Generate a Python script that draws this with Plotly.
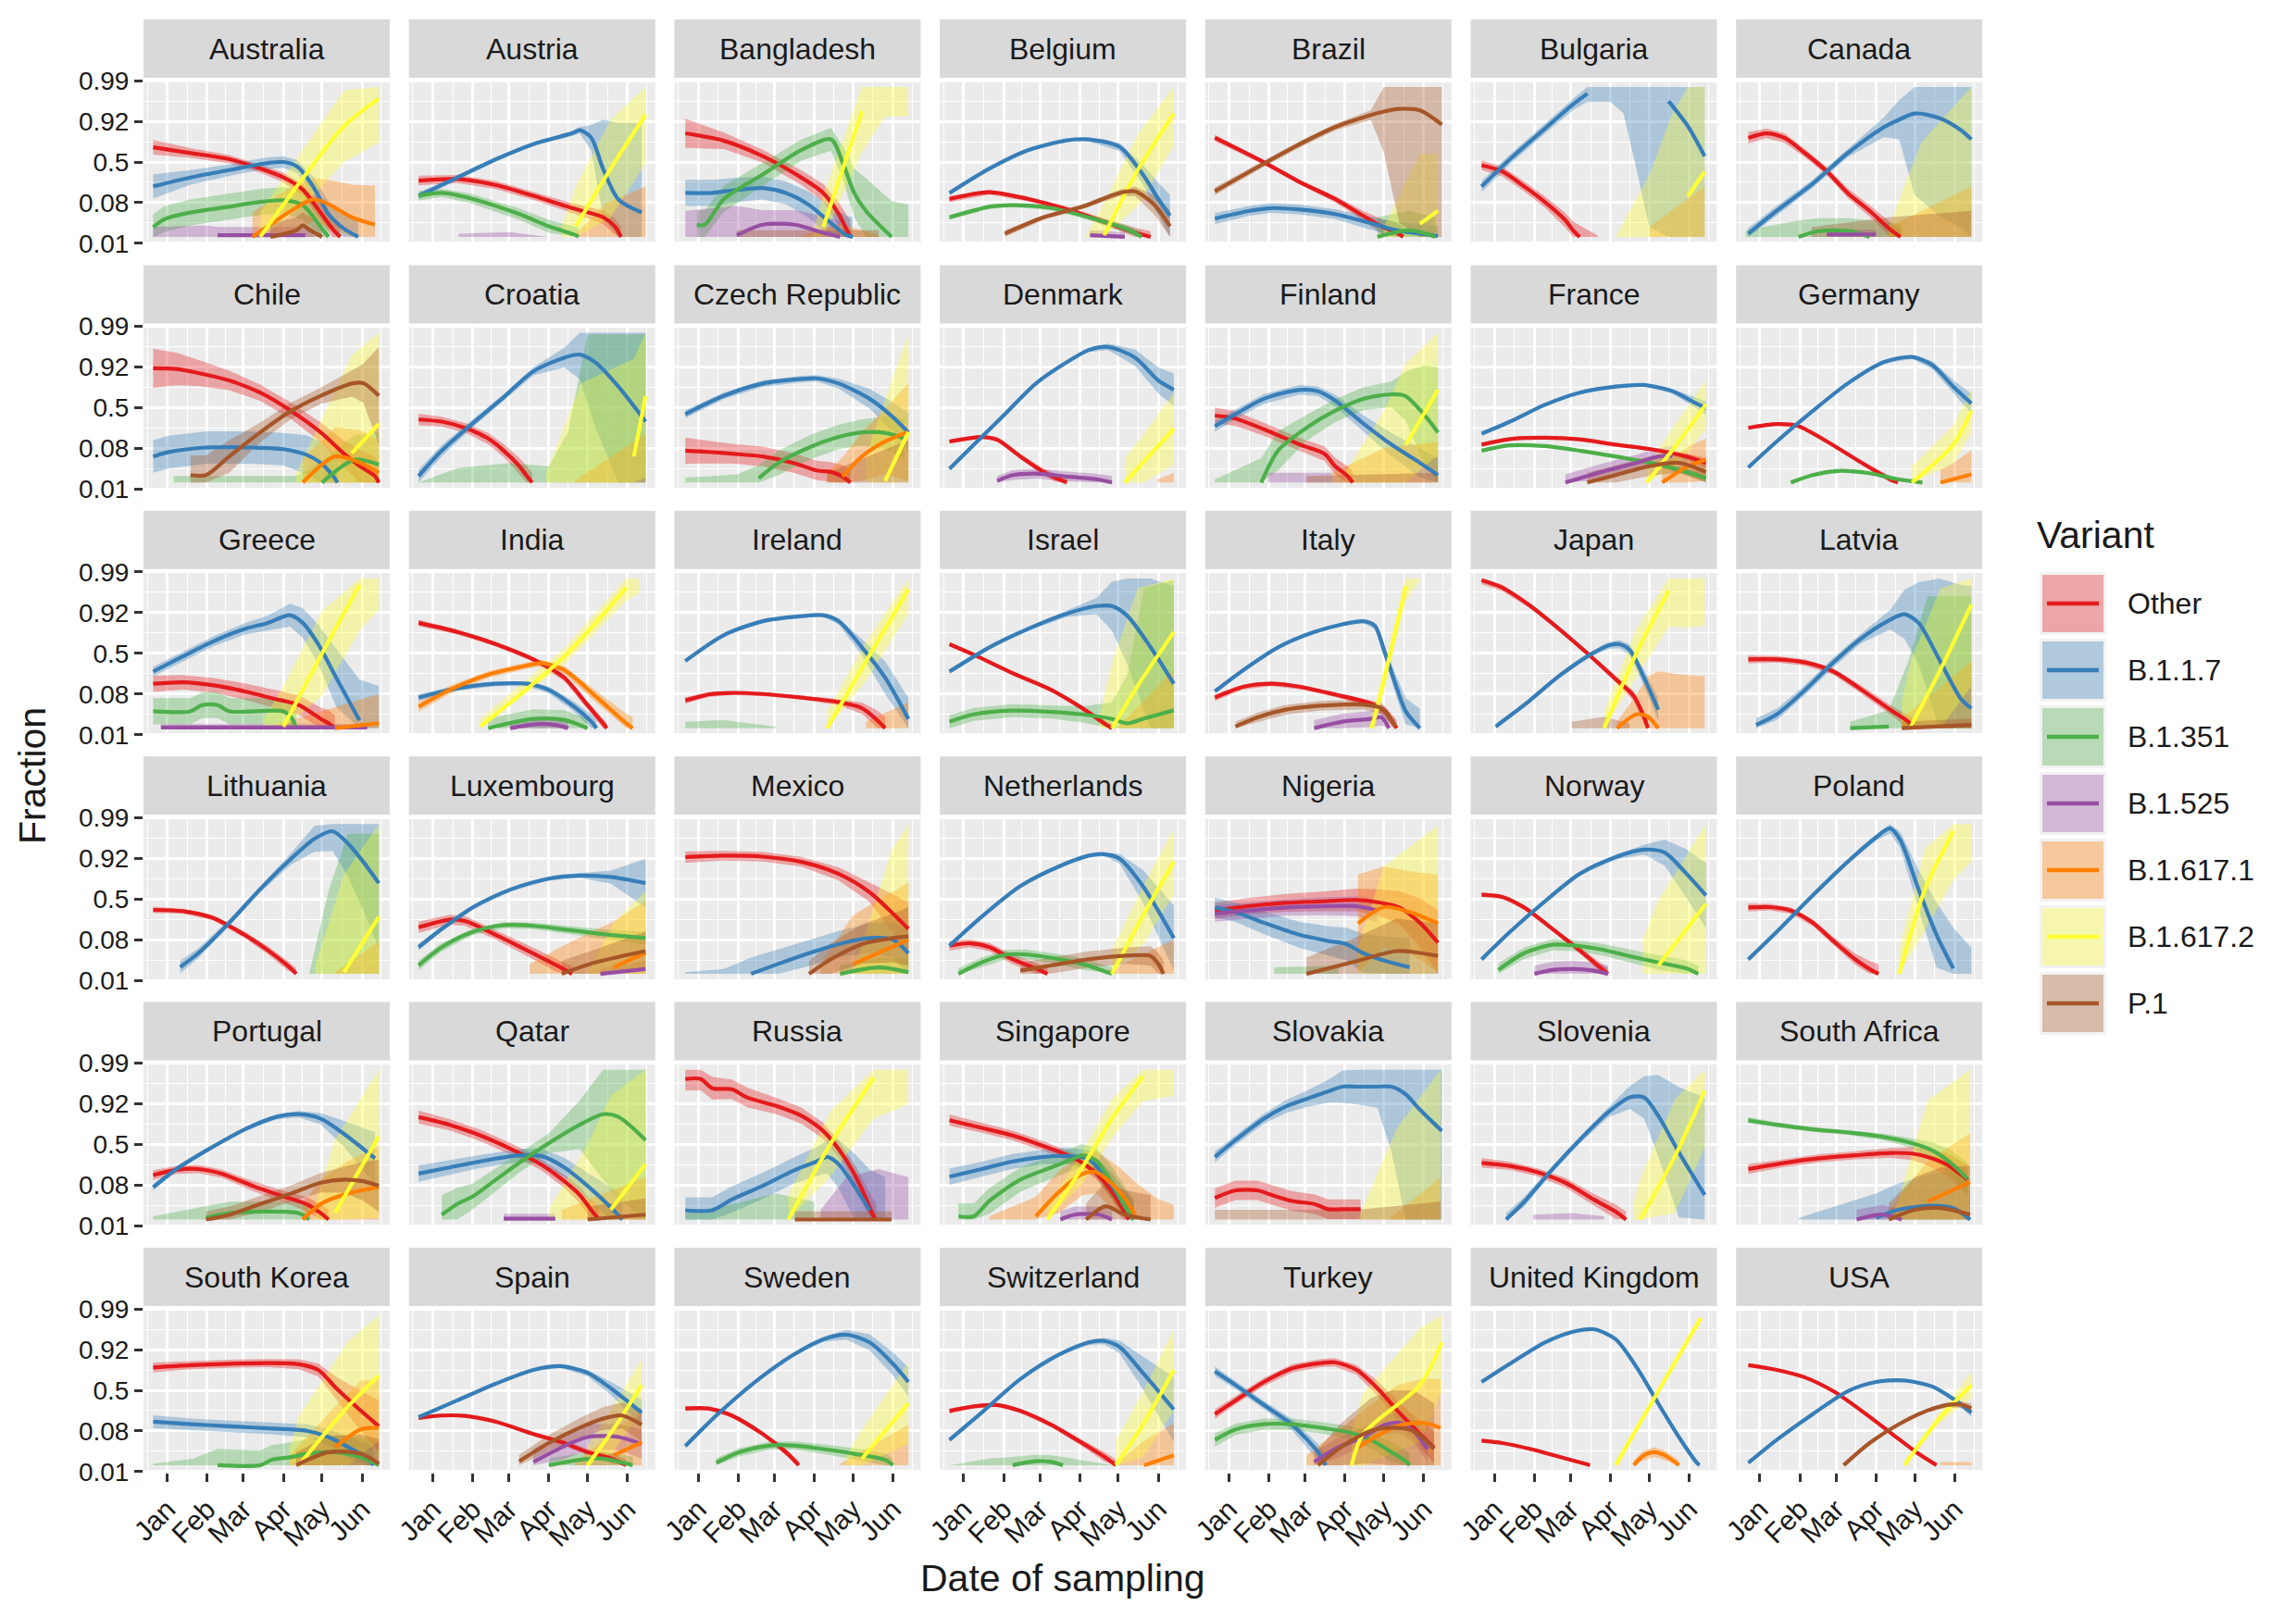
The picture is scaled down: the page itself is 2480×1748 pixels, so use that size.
import numpy as np
import plotly.graph_objects as go

# facets, in the order they appear (6 rows x 7 cols)
COUNTRIES = ["Australia", "Austria", "Bangladesh", "Belgium", "Brazil", "Bulgaria", "Canada",
             "Chile", "Croatia", "Czech Republic", "Denmark", "Finland", "France", "Germany",
             "Greece", "India", "Ireland", "Israel", "Italy", "Japan", "Latvia",
             "Lithuania", "Luxembourg", "Mexico", "Netherlands", "Nigeria", "Norway", "Poland",
             "Portugal", "Qatar", "Russia", "Singapore", "Slovakia", "Slovenia", "South Africa",
             "South Korea", "Spain", "Sweden", "Switzerland", "Turkey", "United Kingdom", "USA"]

VARIANTS = ["Other", "B.1.1.7", "B.1.351", "B.1.525", "B.1.617.1", "B.1.617.2", "P.1"]
COLORS = ["#E41A1C", "#377EB8", "#4DAF4A", "#984EA3", "#FF7F00", "#FFFF33", "#A65628"]

MONTH_DAYS = [0, 31, 59, 90, 120, 151]          # days since 2021-01-01
MONTH_LABELS = ["Jan", "Feb", "Mar", "Apr", "May", "Jun"]
FRACTION_TICKS = [-5, -2.5, 0, 2.5, 5]          # log-odds
FRACTION_LABELS = ["0.01", "0.08", "0.5", "0.92", "0.99"]

# each series: (day since Jan 1, fitted log-odds, half width of the 95% band in log-odds)
OTHER = {
    "Australia": [(-11, 0.9, .45), (18, 0.55, .3), (48, 0.17, .25), (72, -0.4, .25), (90, -0.95, .3), (105, -1.7, .35), (116, -2.8, .5), (128, -4.1, .6), (134, -4.6, .7)],
    "Austria": [(-11, -1.14, .3), (19, -1.05, .25), (49, -1.42, .25), (78, -2.08, .25), (108, -2.83, .3), (132, -3.39, .4), (141, -3.95, .5), (146, -4.6, .6)],
    "Bangladesh": [(-10, 1.76, .9), (20, 1.3, .5), (50, 0.36, .4), (80, -0.96, .45), (97, -1.9, .55), (109, -3.2, .7), (115, -4.14, .9), (118, -4.6, 1.0)],
    "Belgium": [(-11, -2.27, .2), (20, -1.85, .15), (50, -2.27, .15), (80, -2.9, .15), (109, -3.67, .2), (133, -4.33, .3), (145, -4.6, .35)],
    "Brazil": [(-11, 1.48, .2), (27, -0.02, .15), (55, -1.24, .15), (82, -2.27, .2), (104, -3.3, .3), (118, -3.95, .45), (129, -4.3, .6), (135, -4.6, .6)],
    "Bulgaria": [(-10, -0.2, .3), (6, -0.58, .3), (23, -1.5, .3), (39, -2.45, .35), (55, -3.58, .45), (61, -4.2, .55), (66, -4.6, .7), (80, -5.5, 1.0)],
    "Canada": [(-9, 1.48, .35), (5, 1.76, .3), (19, 1.48, .3), (35, 0.54, .25), (52, -0.58, .25), (68, -1.9, .3), (85, -3.0, .35), (101, -4.14, .45), (109, -4.6, .5)],
    "Chile": [(-11, 2.42, 1.2), (7, 2.38, 1.0), (24, 2.13, .8), (48, 1.67, .6), (72, 0.92, .5), (96, -0.2, .5), (119, -1.52, .6), (137, -2.83, .8), (149, -3.58, 1.0), (161, -4.2, 1.2), (164, -4.6, 1.2)],
    "Croatia": [(-11, -0.73, .35), (7, -0.86, .3), (25, -1.24, .3), (43, -1.9, .35), (55, -2.64, .4), (67, -3.58, .5), (73, -4.2, .6), (77, -4.6, .6)],
    "Czech Republic": [(-10, -2.64, .8), (8, -2.72, .7), (26, -2.83, .6), (50, -3.0, .6), (74, -3.4, .6), (92, -3.86, .6), (103, -3.95, .6), (112, -4.23, .7), (118, -4.6, .8)],
    "Denmark": [(-11, -2.08, .12), (14, -1.8, .1), (26, -1.97, .1), (44, -3.0, .15), (62, -3.95, .2), (71, -4.3, .25), (80, -4.6, .3)],
    "Finland": [(-11, -0.49, .5), (5, -0.67, .45), (27, -1.33, .4), (55, -2.27, .4), (74, -2.83, .45), (82, -3.58, .5), (91, -4.14, .6), (96, -4.6, .7)],
    "France": [(-10, -2.27, .1), (12, -1.93, .08), (39, -1.85, .08), (66, -1.95, .08), (94, -2.27, .1), (121, -2.55, .12), (149, -3.0, .2), (164, -3.39, .3)],
    "Germany": [(-9, -1.24, .1), (13, -1.01, .08), (30, -1.14, .08), (52, -2.08, .1), (79, -3.39, .12), (101, -4.4, .2), (107, -4.6, .25)],
    "Greece": [(-11, -1.87, .5), (12, -1.78, .45), (36, -1.97, .45), (60, -2.34, .5), (84, -2.81, .55), (102, -3.18, .6), (119, -4.03, .7), (125, -4.3, .8), (130, -4.6, .8)],
    "India": [(-11, 1.87, .2), (19, 1.31, .15), (49, 0.56, .15), (78, -0.37, .15), (102, -1.5, .2), (120, -3.18, .25), (132, -4.3, .3), (135, -4.6, .3)],
    "Ireland": [(-10, -2.9, .2), (8, -2.53, .15), (26, -2.43, .12), (50, -2.5, .12), (80, -2.72, .12), (109, -3.0, .2), (127, -3.37, .35), (139, -4.12, .6), (145, -4.6, .7)],
    "Israel": [(-11, 0.56, .1), (8, -0.09, .08), (38, -1.22, .08), (68, -2.25, .1), (92, -3.37, .15), (109, -4.3, .2), (115, -4.6, .25)],
    "Italy": [(-11, -2.72, .2), (11, -2.06, .15), (33, -1.87, .15), (55, -2.06, .15), (82, -2.53, .15), (110, -3.09, .2), (121, -3.56, .3), (126, -4.12, .4), (130, -4.6, .5)],
    "Japan": [(-10, 4.49, .25), (6, 4.03, .2), (28, 2.9, .15), (50, 1.5, .15), (72, 0.0, .15), (94, -1.59, .2), (108, -2.62, .3), (116, -3.93, .4), (119, -4.6, .5)],
    "Latvia": [(-9, -0.37, .25), (13, -0.37, .2), (35, -0.56, .2), (57, -1.12, .2), (79, -2.25, .25), (101, -3.46, .3), (115, -4.2, .4), (120, -4.6, .5)],
    "Lithuania": [(-11, -0.67, .2), (12, -0.75, .15), (36, -1.18, .15), (60, -2.21, .2), (78, -3.15, .25), (93, -4.08, .3), (100, -4.6, .35)],
    "Luxembourg": [(-11, -1.74, .35), (13, -1.27, .3), (25, -1.35, .3), (49, -2.21, .3), (73, -3.15, .35), (96, -4.08, .4), (108, -4.6, .45)],
    "Mexico": [(-10, 2.57, .35), (20, 2.66, .3), (50, 2.6, .3), (80, 2.28, .3), (109, 1.54, .4), (133, 0.41, .6), (151, -0.9, 1.2), (163, -1.84, 1.6)],
    "Netherlands": [(-11, -2.87, .3), (5, -2.72, .25), (20, -2.96, .25), (38, -3.71, .3), (56, -4.27, .35), (65, -4.6, .4)],
    "Nigeria": [(-11, -0.71, .5), (16, -0.43, .5), (44, -0.24, .55), (71, -0.15, .6), (99, -0.06, .7), (115, -0.2, .8), (132, -0.52, 1.0), (148, -1.46, 1.5), (162, -2.68, 2.0)],
    "Norway": [(-10, 0.26, .15), (6, 0.13, .12), (23, -0.52, .12), (45, -1.84, .15), (66, -3.15, .2), (83, -4.27, .3), (88, -4.6, .35)],
    "Poland": [(-9, -0.52, .25), (8, -0.5, .2), (24, -0.71, .2), (41, -1.46, .2), (57, -2.58, .25), (74, -3.71, .35), (85, -4.3, .5), (92, -4.6, .6)],
    "Portugal": [(-11, -1.87, .3), (7, -1.55, .25), (24, -1.5, .25), (42, -1.78, .25), (66, -2.53, .3), (90, -3.18, .35), (108, -3.65, .45), (119, -4.21, .55), (125, -4.6, .6)],
    "Qatar": [(-11, 1.69, .4), (13, 1.22, .35), (37, 0.56, .35), (61, -0.28, .35), (84, -1.22, .35), (102, -2.25, .4), (114, -3.09, .5), (123, -4.03, .6), (129, -4.6, .7)],
    "Russia": [(-10, 4.03, .7), (2, 4.03, .7), (11, 3.46, .7), (26, 3.4, .6), (38, 2.9, .6), (62, 2.34, .5), (80, 1.78, .5), (97, 0.84, .5), (109, -0.28, .5), (121, -1.78, .6), (130, -3.28, .8), (136, -4.4, 1.0), (138, -4.6, 1.0)],
    "Singapore": [(-11, 1.5, .35), (14, 1.03, .3), (38, 0.56, .3), (62, -0.09, .3), (86, -0.84, .3), (103, -1.78, .35), (115, -2.9, .45), (124, -4.03, .6), (128, -4.6, .7)],
    "Slovakia": [(-11, -3.28, .6), (5, -2.81, .6), (22, -2.81, .6), (33, -3.09, .6), (49, -3.46, .6), (66, -3.65, .6), (77, -3.97, .6), (88, -3.97, .6), (102, -3.97, .6)],
    "Slovenia": [(-10, -1.12, .3), (12, -1.31, .25), (33, -1.69, .25), (55, -2.34, .3), (77, -3.37, .35), (94, -4.12, .45), (102, -4.6, .5)],
    "South Africa": [(-9, -1.5, .3), (19, -1.12, .25), (46, -0.84, .25), (74, -0.66, .25), (101, -0.51, .3), (118, -0.55, .4), (129, -0.73, .5), (145, -1.22, .7), (161, -2.15, .9)],
    "South Korea": [(-11, 1.4, .3), (18, 1.54, .25), (48, 1.63, .25), (78, 1.67, .25), (102, 1.6, .3), (117, 1.25, .4), (131, 0.13, .7), (149, -1.18, 1.2), (164, -2.21, 1.6)],
    "Spain": [(-11, -1.7, .12), (7, -1.55, .1), (25, -1.57, .1), (49, -1.93, .1), (78, -2.68, .12), (102, -3.24, .15), (120, -3.8, .2), (138, -4.18, .3), (150, -4.6, .35)],
    "Sweden": [(-10, -1.12, .15), (8, -1.12, .12), (26, -1.55, .12), (50, -2.68, .15), (68, -3.8, .2), (78, -4.6, .25)],
    "Switzerland": [(-11, -1.27, .15), (8, -0.99, .12), (26, -0.9, .12), (44, -1.27, .12), (68, -2.12, .15), (92, -3.24, .2), (109, -4.08, .3), (118, -4.6, .35)],
    "Turkey": [(-11, -1.46, .3), (5, -0.62, .25), (27, 0.51, .25), (49, 1.35, .25), (71, 1.67, .25), (82, 1.72, .25), (99, 1.25, .3), (115, 0.13, .45), (132, -1.37, .6), (148, -2.68, .8), (159, -3.52, 1.0)],
    "United Kingdom": [(-10, -3.09, .06), (6, -3.24, .06), (28, -3.61, .06), (50, -4.08, .08), (72, -4.55, .1), (74, -4.6, .1)],
    "USA": [(-9, 1.54, .04), (13, 1.25, .03), (35, 0.79, .03), (57, -0.06, .03), (79, -1.27, .04), (101, -2.59, .05), (123, -3.9, .07), (137, -4.6, .1)],
}

B117 = {
    "Australia": [(-11, -1.5, .75), (18, -0.95, .45), (48, -0.5, .35), (75, -0.1, .35), (90, 0.0, .35), (101, -0.3, .4), (113, -1.5, .6), (125, -3.2, .8), (137, -4.1, .9), (148, -4.6, 1.0)],
    "Austria": [(-11, -2.08, .2), (19, -0.96, .15), (49, 0.17, .12), (78, 1.1, .12), (108, 1.76, .15), (114, 1.95, .2), (123, 1.48, .8), (132, -0.4, 3.0), (144, -2.3, 4.7), (162, -3.1, 5.5)],
    "Bangladesh": [(-10, -1.9, .8), (11, -1.9, .8), (26, -1.75, .75), (50, -1.6, .7), (68, -1.9, .7), (86, -2.64, .8), (103, -3.76, 1.0), (115, -4.5, 1.2), (120, -4.6, 1.2)],
    "Belgium": [(-11, -1.9, .12), (20, -0.4, .1), (50, 0.73, .1), (80, 1.33, .1), (97, 1.39, .12), (121, 0.92, .25), (139, -0.77, .6), (151, -2.27, 1.0), (160, -3.3, 1.3)],
    "Brazil": [(-11, -3.48, .35), (16, -3.0, .3), (33, -2.83, .3), (55, -2.92, .3), (82, -3.2, .3), (110, -3.76, .4), (132, -4.23, .5), (148, -4.4, .6), (162, -4.55, .6)],
    "Bulgaria": [(-10, -1.5, .35), (12, 0.17, .3), (39, 2.04, .3), (61, 3.54, .35), (72, 4.2, .5), (90, 5.2, 1.5), (100, 5.6, 2.6), (110, 5.6, 6), (120, 5.0, 9), (135, 3.73, 9), (150, 2.2, 9), (163, 0.36, 9)],
    "Canada": [(-9, -4.4, .35), (13, -3.0, .3), (41, -1.33, .25), (68, 0.54, .25), (96, 2.13, .6), (108, 2.6, 1.2), (120, 2.98, 5), (139, 2.7, 6), (156, 1.95, 6), (164, 1.39, 6)],
    "Chile": [(-11, -3.0, 1.0), (1, -2.73, 1.0), (30, -2.45, 1.0), (66, -2.45, 1.0), (90, -2.55, 1.0), (108, -2.9, 1.2), (119, -3.4, 1.3), (128, -4.14, 1.4), (132, -4.6, 1.4)],
    "Croatia": [(-11, -4.2, .4), (7, -2.64, .35), (31, -0.96, .25), (55, 0.64, .2), (78, 2.23, .25), (102, 3.07, .6), (114, 3.26, 1.5), (126, 2.79, 4), (144, 1.29, 6), (165, -0.86, 6)],
    "Czech Republic": [(-10, -0.4, .25), (20, 0.73, .2), (50, 1.48, .2), (80, 1.76, .2), (92, 1.8, .2), (109, 1.48, .3), (133, 0.54, .6), (151, -0.58, .9), (163, -1.52, 1.2)],
    "Denmark": [(-11, -3.76, .06), (8, -2.27, .05), (32, -0.4, .05), (56, 1.48, .06), (80, 2.79, .08), (97, 3.54, .12), (112, 3.73, .2), (133, 3.07, .5), (151, 1.67, .8), (163, 1.1, 1.0)],
    "Finland": [(-11, -1.14, .35), (5, -0.4, .3), (27, 0.54, .3), (55, 1.1, .3), (69, 1.0, .3), (82, 0.45, .35), (104, -0.96, .5), (126, -2.27, .7), (148, -3.39, .9), (162, -4.14, 1.0)],
    "France": [(-10, -1.6, .06), (12, -0.86, .05), (39, 0.17, .05), (66, 0.92, .05), (94, 1.29, .06), (116, 1.39, .08), (138, 1.01, .15), (154, 0.36, .3), (164, -0.02, .4)],
    "Germany": [(-9, -3.67, .08), (13, -2.08, .06), (41, -0.2, .05), (68, 1.48, .05), (96, 2.79, .08), (118, 3.11, .12), (134, 2.6, .25), (150, 1.29, .4), (164, 0.26, .6)],
    "Greece": [(-11, -1.12, .3), (12, -0.19, .3), (36, 0.75, .3), (60, 1.5, .35), (78, 1.87, .45), (95, 2.34, .7), (105, 1.87, .9), (117, 0.56, 1.2), (131, -1.5, 1.8), (149, -4.12, 2.5), (164, -6, 4)],
    "India": [(-11, -2.72, .2), (19, -2.15, .15), (49, -1.87, .15), (73, -1.87, .15), (90, -2.25, .2), (108, -3.18, .3), (123, -4.2, .45), (127, -4.6, .5)],
    "Ireland": [(-10, -0.47, .1), (20, 1.12, .08), (50, 1.97, .08), (80, 2.28, .08), (97, 2.34, .1), (109, 1.97, .2), (127, 0.37, .5), (145, -1.5, 1.0), (163, -4.03, 1.3)],
    "Israel": [(-11, -1.12, .15), (20, 0.37, .12), (50, 1.5, .12), (80, 2.43, .2), (103, 2.9, .5), (115, 2.9, 1.5), (127, 2.3, 3), (145, 0.37, 5), (163, -1.87, 6)],
    "Italy": [(-11, -2.34, .08), (11, -1.03, .06), (38, 0.37, .06), (66, 1.31, .06), (88, 1.78, .08), (104, 1.97, .12), (113, 1.69, .2), (121, 0.0, .4), (129, -1.87, .6), (137, -3.56, .8), (148, -4.6, 1.2)],
    "Japan": [(1, -4.5, .2), (23, -3.18, .15), (50, -1.4, .15), (72, -0.19, .15), (88, 0.47, .2), (97, 0.56, .25), (105, 0.19, .35), (116, -1.5, .5), (127, -3.46, .7)],
    "Latvia": [(-3, -4.4, .4), (13, -3.75, .35), (35, -2.25, .3), (57, -0.56, .3), (79, 0.94, .3), (101, 2.06, .6), (112, 2.4, 1.5), (123, 1.87, 2.5), (139, -0.37, 5), (156, -2.81, 7), (164, -3.37, 7.5)],
    "Lithuania": [(10, -4.18, .4), (24, -3.33, .3), (48, -1.46, .2), (72, 0.6, .2), (96, 2.47, .35), (114, 3.69, .8), (128, 4.16, 1.2), (140, 3.41, 2), (152, 2.28, 3), (164, 0.97, 4)],
    "Luxembourg": [(-11, -2.96, .2), (7, -1.84, .15), (31, -0.52, .12), (61, 0.6, .12), (90, 1.25, .12), (114, 1.44, .15), (138, 1.35, .4), (165, 0.97, 1.5)],
    "Mexico": [(-10, -6, 1.5), (20, -5.5, 1.2), (41, -4.6, 1.0), (62, -3.99, .9), (86, -3.33, .8), (109, -2.77, .8), (133, -2.4, .9), (151, -2.5, 1.1), (163, -3.33, 1.4)],
    "Netherlands": [(-11, -2.87, .1), (14, -1.09, .08), (44, 0.79, .08), (74, 2.0, .08), (97, 2.66, .1), (109, 2.75, .12), (121, 2.47, .3), (139, 0.79, 1.0), (163, -2.4, 2.0)],
    "Nigeria": [(-11, -0.52, .6), (5, -0.81, .6), (27, -1.46, .7), (55, -2.21, .8), (77, -2.58, .9), (91, -2.77, 1.0), (104, -3.33, 1.2), (121, -3.8, 1.5), (140, -4.2, 1.8)],
    "Norway": [(-10, -3.71, .1), (12, -2.02, .08), (39, -0.15, .08), (66, 1.54, .1), (94, 2.57, .15), (116, 3.03, .3), (132, 2.85, .8), (149, 1.54, 1.5), (164, 0.22, 2.0)],
    "Poland": [(-9, -3.71, .15), (13, -2.02, .1), (41, 0.22, .1), (68, 2.28, .12), (90, 3.78, .2), (101, 4.34, .3), (109, 3.6, .5), (123, 0.6, 1.2), (137, -2.21, 2.0), (150, -4.27, 2.5), (164, -6, 3)],
    "Portugal": [(-11, -2.62, .2), (7, -1.5, .15), (30, -0.37, .12), (60, 0.94, .12), (84, 1.69, .15), (102, 1.87, .2), (119, 1.59, .35), (137, 0.66, .8), (161, -0.84, 1.6)],
    "Qatar": [(-11, -1.78, .5), (13, -1.4, .45), (37, -1.03, .4), (67, -0.66, .4), (84, -0.7, .45), (102, -1.4, .6), (120, -2.53, .8), (138, -3.84, 1.2), (147, -4.6, 1.4)],
    "Russia": [(-10, -4.03, .8), (11, -4.03, .8), (26, -3.37, .8), (50, -2.53, .8), (74, -1.59, .8), (92, -1.03, .9), (100, -0.75, 1.0), (109, -1.2, 1.5), (121, -2.53, 2.0), (133, -4.03, 2.5), (145, -5, 3)],
    "Singapore": [(-11, -1.97, .5), (14, -1.5, .45), (38, -1.03, .45), (62, -0.75, .45), (80, -0.7, .5), (97, -0.9, .55), (115, -2.53, .8), (127, -4.03, 1.0), (132, -4.6, 1.1)],
    "Slovakia": [(-11, -0.75, .35), (5, 0.28, .3), (27, 1.59, .3), (44, 2.34, .4), (60, 2.81, .5), (77, 3.28, .7), (88, 3.56, 1.0), (100, 3.56, 1.1), (115, 3.56, 1.3), (126, 3.56, 4), (137, 3.09, 8), (148, 2.15, 8), (165, 0.84, 8)],
    "Slovenia": [(9, -4.6, .4), (23, -3.52, .3), (44, -1.59, .2), (66, 0.28, .2), (88, 1.97, .3), (105, 2.9, .7), (116, 2.9, 1.3), (127, 1.78, 2.5), (143, -0.47, 4), (163, -3.09, 6)],
    "South Africa": [(30, -6, 1.5), (70, -5, 1.5), (90, -4.5, 1.5), (107, -4.0, 1.6), (134, -3.75, 2.0), (150, -3.9, 2.2), (163, -4.6, 2.5)],
    "South Korea": [(-11, -1.93, .4), (18, -2.08, .35), (48, -2.21, .35), (78, -2.34, .35), (108, -2.49, .4), (125, -2.87, .5), (143, -3.61, .7), (155, -4.18, .9), (160, -4.6, 1.0)],
    "Spain": [(-11, -1.65, .1), (19, -0.62, .08), (49, 0.41, .08), (78, 1.25, .08), (99, 1.48, .1), (120, 1.07, .2), (138, 0.13, .4), (162, -1.37, .8)],
    "Sweden": [(-10, -3.43, .1), (14, -1.55, .08), (44, 0.51, .08), (74, 2.19, .1), (97, 3.13, .15), (115, 3.41, .3), (133, 2.94, .5), (151, 1.63, .7), (163, 0.51, .9)],
    "Switzerland": [(-11, -3.05, .1), (14, -1.37, .08), (44, 0.69, .08), (74, 2.19, .1), (97, 2.94, .15), (109, 3.03, .2), (121, 2.66, .4), (139, 1.07, 1.0), (163, -1.18, 2.0)],
    "Turkey": [(-11, 1.16, .3), (5, 0.32, .25), (27, -0.9, .25), (49, -2.12, .35), (69, -3.8, .5), (75, -4.6, .6)],
    "United Kingdom": [(-10, 0.51, .05), (12, 1.63, .04), (39, 2.94, .04), (61, 3.6, .04), (77, 3.75, .05), (94, 3.13, .05), (110, 1.44, .06), (127, -0.81, .08), (143, -2.87, .1), (157, -4.46, .15), (159, -4.6, .15)],
    "USA": [(-9, -4.46, .06), (13, -3.05, .04), (41, -1.46, .03), (68, -0.06, .03), (90, 0.51, .04), (112, 0.6, .05), (134, 0.22, .08), (150, -0.53, .15), (164, -1.37, .25)],
}

B1351 = {
    "Australia": [(-11, -4.0, .8), (-2, -3.5, .8), (18, -3.1, .8), (48, -2.75, .8), (72, -2.45, .8), (90, -2.35, .8), (105, -2.65, .9), (120, -4.1, 1.0), (125, -4.6, 1.0)],
    "Austria": [(-11, -2.08, .3), (7, -1.9, .25), (31, -2.27, .3), (67, -3.2, .35), (90, -3.95, .4), (111, -4.5, .5), (113, -4.6, .5)],
    "Bangladesh": [(-1, -3.86, .9), (5, -3.86, .9), (20, -2.27, .8), (50, -0.77, .7), (80, 0.73, .65), (103, 1.39, .7), (112, -0.02, 1.0), (121, -1.9, 1.5), (130, -3.0, 2.0), (150, -4.6, 2.2), (163, -5, 2.4)],
    "Belgium": [(-11, -3.4, .15), (20, -2.75, .12), (38, -2.65, .12), (68, -2.83, .12), (97, -3.4, .15), (127, -4.14, .25), (136, -4.5, .3), (138, -4.6, .3)],
    "Brazil": [(115, -4.6, 1.2), (140, -4.2, 1.2), (160, -4.6, 1.2)],
    "Canada": [(-11, -5.2, 1), (30, -4.6, 1), (45, -4.25, .8), (70, -4.25, .8), (85, -4.6, 1), (110, -5, 1.2)],
    "Chile": [(5, -4.8, .6), (100, -4.8, .6), (120, -4.6, 1.3), (145, -3.2, 1.5), (164, -3.5, 2)],
    "Croatia": [(-11, -6.5, 1.5), (20, -5.5, 1.8), (60, -5.2, 1.8), (90, -5.2, 1.6), (105, -5.5, 4), (120, -5.5, 10), (165, -5.5, 10)],
    "Czech Republic": [(-10, -5.5, 1.2), (30, -5.0, .9), (47, -4.33, .8), (62, -3.4, .75), (86, -2.45, .75), (109, -1.8, .75), (127, -1.52, .8), (145, -1.55, 1.0), (160, -1.9, 1.2)],
    "Finland": [(-11, -6, 1.6), (25, -4.6, 1.5), (38, -2.64, 1.2), (60, -1.24, .8), (82, -0.2, .7), (104, 0.54, .7), (126, 0.82, .8), (137, 0.7, 1.5), (151, -0.4, 3), (162, -1.52, 4)],
    "France": [(-10, -2.64, .08), (12, -2.32, .06), (39, -2.36, .06), (66, -2.64, .06), (94, -3.0, .08), (121, -3.39, .12), (149, -3.95, .2), (164, -4.33, .3)],
    "Germany": [(24, -4.6, .15), (41, -4.14, .1), (63, -3.88, .08), (85, -4.03, .08), (107, -4.4, .12), (126, -4.6, .15)],
    "Greece": [(-11, -3.56, .8), (18, -3.56, .8), (27, -3.18, .8), (39, -3.18, .8), (48, -3.56, .8), (90, -3.56, .8), (96, -3.93, .8), (100, -4.6, .8)],
    "India": [(43, -4.6, .6), (78, -4.03, .6), (102, -4.1, .6), (120, -4.6, .6)],
    "Ireland": [(-10, -5, .8), (20, -4.9, .8), (60, -5.1, .6)],
    "Israel": [(-11, -4.2, .4), (8, -3.75, .4), (38, -3.52, .4), (68, -3.6, .4), (92, -3.75, .5), (115, -4.03, 1.0), (127, -4.3, 3.0), (140, -4.0, 8), (163, -3.5, 8)],
    "Latvia": [(70, -4.6, .4), (100, -4.5, 1), (115, -5, 4.5), (130, -5, 8.5), (164, -5, 8.5)],
    "Lithuania": [(110, -7, 2), (125, -5.5, 6), (140, -5.5, 9.5), (164, -5, 9)],
    "Luxembourg": [(-11, -4.08, .3), (7, -2.96, .25), (31, -2.02, .2), (55, -1.61, .2), (78, -1.65, .2), (108, -1.93, .25), (138, -2.21, .3), (165, -2.4, .4)],
    "Mexico": [(110, -4.6, .5), (140, -4.2, .6), (163, -4.5, .8)],
    "Netherlands": [(-4, -4.6, .35), (14, -3.9, .3), (32, -3.43, .3), (47, -3.4, .3), (68, -3.61, .3), (92, -3.99, .35), (115, -4.6, .4)],
    "Nigeria": [(35, -5, .8), (85, -4.9, .8)],
    "Norway": [(3, -4.36, .4), (23, -3.33, .35), (45, -2.81, .35), (61, -2.85, .35), (83, -3.1, .35), (105, -3.52, .4), (127, -3.9, .45), (149, -4.27, .5), (158, -4.6, .5)],
    "Portugal": [(-11, -5.2, .8), (30, -4.5, .7), (48, -4.21, .7), (102, -4.21, .7), (110, -4.6, .8)],
    "Qatar": [(7, -4.31, 1.2), (19, -3.65, 1.0), (31, -3.18, .8), (49, -2.15, .7), (67, -1.12, .6), (90, 0.09, .6), (114, 1.22, 1.5), (132, 1.87, 4), (144, 1.7, 5), (165, 0.28, 5)],
    "Russia": [(-10, -5.2, 1), (30, -5.2, 1.6), (60, -5.0, 2), (90, -5.3, 1.8)],
    "Singapore": [(-4, -4.4, .8), (8, -4.4, .8), (20, -3.46, .8), (44, -2.15, .75), (68, -1.4, .7), (86, -0.84, .7), (92, -0.66, .7), (103, -1.0, .8), (115, -2.34, 1.0), (127, -4.03, 1.2), (132, -4.6, 1.3)],
    "South Africa": [(-9, 1.5, .2), (13, 1.22, .15), (41, 0.94, .15), (68, 0.75, .15), (96, 0.47, .2), (118, 0.09, .3), (134, -0.37, .5), (148, -1.12, .8), (161, -2.1, 1.0)],
    "South Korea": [(-11, -5.5, 1), (20, -5.2, 1), (39, -4.6, 1), (72, -4.6, .9), (81, -4.27, .9), (96, -4.1, .9), (108, -3.9, .9), (131, -3.8, 1.0), (149, -4.1, 1.2), (164, -4.6, 1.4)],
    "Spain": [(90, -4.6, .4), (114, -4.27, .4), (132, -4.2, .4), (150, -4.5, .5), (155, -4.6, .5)],
    "Sweden": [(14, -4.46, .3), (32, -3.8, .25), (56, -3.39, .25), (74, -3.39, .25), (97, -3.61, .3), (121, -3.9, .35), (145, -4.27, .4), (151, -4.6, .4)],
    "Switzerland": [(-11, -6, 1), (20, -5, .8), (38, -4.6, .5), (56, -4.36, .4), (68, -4.4, .4), (77, -4.6, .5), (100, -5, .6), (118, -5.3, .6)],
    "Turkey": [(-11, -3.05, .4), (5, -2.4, .35), (27, -2.08, .35), (49, -2.08, .35), (71, -2.3, .35), (93, -2.59, .4), (110, -3.05, .5), (126, -3.8, .6), (137, -4.36, .7), (140, -4.6, .7)],
}

B1525 = {
    "Australia": [(-11, -5.2, 1.2), (30, -4.9, 1.0), (39, -4.5, .5), (80, -4.5, .5), (107, -4.5, .5), (115, -5.5, .8)],
    "Austria": [(20, -5.2, .8), (60, -5.0, .7), (90, -5.3, .6)],
    "Bangladesh": [(-10, -4.8, 1.8), (30, -4.5, 1.8), (50, -3.85, .9), (75, -3.85, .9), (95, -4.3, 1.0), (110, -4.6, 1.0)],
    "Belgium": [(98, -4.5, .3), (125, -4.6, .3)],
    "Canada": [(52, -4.45, .3), (90, -4.45, .3)],
    "Denmark": [(26, -4.5, .3), (38, -4.14, .3), (56, -4.05, .3), (80, -4.23, .3), (103, -4.4, .35), (115, -4.6, .4)],
    "Finland": [(30, -5, 1), (80, -4.8, .8)],
    "France": [(55, -4.6, .5), (83, -3.95, .5), (110, -3.39, .5), (127, -3.0, .5), (138, -2.95, .6)],
    "Greece": [(-5, -4.55, .2), (155, -4.55, .2)],
    "India": [(60, -4.6, .4), (80, -4.35, .4), (95, -4.4, .4), (105, -4.6, .4)],
    "Italy": [(66, -4.6, .5), (88, -4.2, .5), (110, -4.03, .5), (118, -3.93, .5), (124, -4.6, .5)],
    "Luxembourg": [(130, -4.6, .3), (165, -4.3, .5)],
    "Nigeria": [(-11, -0.9, .5), (16, -0.7, .5), (44, -0.52, .5), (71, -0.45, .55), (99, -0.45, .6), (115, -0.71, .7)],
    "Norway": [(31, -4.6, .5), (45, -4.36, .5), (61, -4.3, .5), (77, -4.4, .5), (88, -4.6, .5)],
    "Qatar": [(55, -4.55, .3), (95, -4.55, .3)],
    "Russia": [(95, -5.5, 1.5), (115, -5, 3), (140, -5, 3.5), (163, -5.5, 3.5)],
    "Singapore": [(75, -4.6, .5), (86, -4.3, .5), (105, -4.3, .5), (115, -4.6, .5)],
    "Slovenia": [(30, -4.8, .5), (60, -4.7, .5), (85, -4.9, .5)],
    "South Africa": [(75, -4.6, .6), (95, -4.3, .6), (110, -4.6, .6)],
    "Spain": [(78, -4.4, .8), (102, -3.43, .8), (120, -2.87, .8), (144, -2.87, .8), (162, -3.3, .9)],
    "Turkey": [(66, -4.4, .6), (82, -3.61, .6), (104, -2.87, .6), (121, -2.12, .6), (132, -2.0, .6), (143, -2.5, .7), (154, -3.61, .8)],
}

B16171 = {
    "Australia": [(66, -4.6, 1.5), (96, -3.0, 1.5), (113, -2.3, 1.3), (125, -2.6, 1.5), (143, -3.4, 2.0), (161, -3.85, 2.4)],
    "Austria": [(110, -6, 1.5), (135, -5.5, 3), (165, -5.0, 3.5)],
    "Bangladesh": [(80, -5.5, 1), (110, -5, 1.2), (140, -5.5, 1)],
    "Bulgaria": [(120, -6, 2), (163, -4.5, 3)],
    "Canada": [(100, -6, 2), (164, -4.0, 2.5)],
    "Chile": [(105, -4.6, 1.5), (130, -3.0, 1.8), (150, -3.4, 2), (164, -4.0, 2)],
    "Croatia": [(110, -6, 1.5), (165, -5.2, 3.6)],
    "Czech Republic": [(100, -5.0, 1), (112, -4.23, 1.2), (127, -3.0, 1.5), (145, -2.08, 2), (163, -1.5, 3)],
    "Denmark": [(150, -5.2, .8), (163, -4.8, .8)],
    "Finland": [(80, -6, 2), (120, -5, 2.5), (162, -4.6, 2.5)],
    "France": [(130, -4.6, 1), (150, -3.6, 1.2), (164, -3.2, 1.3)],
    "Germany": [(140, -4.6, .8), (150, -4.4, 1), (164, -4.1, 1.5)],
    "Greece": [(80, -5.5, 1), (130, -4.6, 1.3), (164, -4.3, 1.8)],
    "India": [(-11, -3.28, .3), (13, -2.25, .25), (43, -1.31, .2), (73, -0.75, .2), (84, -0.6, .2), (102, -1.03, .25), (126, -2.62, .35), (150, -4.3, .6), (155, -4.6, .7)],
    "Ireland": [(130, -5.5, 1.3), (163, -4.6, 1.6)],
    "Israel": [(120, -6, 1.5), (163, -3.5, 2.5)],
    "Japan": [(95, -4.6, .4), (110, -3.75, 1.2), (119, -3.9, 2.5), (127, -4.6, 3.5), (145, -5.5, 4.2), (163, -6, 4.6)],
    "Latvia": [(110, -6, 2), (164, -4, 3.5)],
    "Lithuania": [(130, -6, 1.5), (164, -4.6, 2)],
    "Luxembourg": [(75, -6, 2), (110, -5, 2.5), (140, -4.2, 2.8), (165, -3.3, 3.2)],
    "Mexico": [(95, -6, 2), (120, -4, 3), (163, -2.5, 3.5)],
    "Netherlands": [(110, -5.5, 1), (163, -4.5, 2)],
    "Nigeria": [(100, -1.5, 3), (120, -0.5, 2.5), (140, -0.8, 2.5), (162, -1.5, 3)],
    "Portugal": [(105, -4.6, 1), (120, -3.6, 1.5), (140, -3.0, 2), (164, -2.6, 2.5)],
    "Qatar": [(100, -5.5, 1.5), (165, -4.5, 2.5)],
    "Singapore": [(20, -5.6, 1.2), (56, -4.4, 1.2), (74, -2.9, 1.3), (92, -1.8, 1.3), (103, -1.7, 1.3), (121, -2.9, 1.5), (133, -4.3, 2), (150, -5.5, 2.2), (163, -6, 2.3)],
    "Slovakia": [(125, -6, 1.5), (164, -4.5, 2.5)],
    "South Africa": [(100, -5.5, 1.5), (130, -3.5, 2.5), (163, -2.3, 3)],
    "South Korea": [(95, -5.5, 1.5), (130, -3.5, 2.5), (150, -2.4, 3), (164, -2.3, 3)],
    "Spain": [(110, -5.5, 1), (140, -4, 1.5), (162, -3.2, 2)],
    "Sweden": [(110, -6, 1.5), (163, -4.6, 2.5)],
    "Switzerland": [(118, -5.5, 1), (140, -4.6, 1.5), (163, -4.0, 2)],
    "Turkey": [(60, -5.5, 1.5), (100, -3.5, 2), (130, -2.2, 2.5), (150, -2.0, 2.7), (164, -2.3, 3)],
    "United Kingdom": [(108, -4.6, .3), (116, -3.99, .3), (124, -3.8, .3), (132, -3.99, .3), (143, -4.6, .3)],
    "USA": [(140, -4.8, .4), (164, -4.8, .4)],
}

B16172 = {
    "Australia": [(72, -4.6, 1.5), (107, -0.8, 1.8), (137, 2.2, 2.2), (164, 3.9, 2.7)],
    "Austria": [(100, -6, 2), (111, -3.95, 2.5), (138, -0.4, 3), (165, 2.9, 3)],
    "Bangladesh": [(90, -6, 2), (97, -4.0, 2), (127, 3.1, 2.5), (145, 5.0, 2.2), (163, 5.2, 2.4)],
    "Belgium": [(95, -6, 1.5), (109, -4.5, 2), (135, -0.5, 2.2), (163, 2.98, 2)],
    "Brazil": [(120, -6.0, 2.0), (148, -3.8, 4.3), (162, -3.0, 3.5)],
    "Bulgaria": [(94, -7, 2.4), (120, -4.8, 4), (138, -5, 8), (150, -2.1, 8), (163, -0.6, 8)],
    "Canada": [(100, -7, 3), (125, -4.8, 6), (164, -1.9, 6.5)],
    "Chile": [(100, -7, 3), (143, -2.8, 6), (164, -1.0, 6)],
    "Croatia": [(88, -7, 3), (115, -5, 6.5), (156, -3.0, 6), (165, 0.7, 5)],
    "Czech Republic": [(130, -7, 4), (145, -4.5, 5), (163, -1.5, 6)],
    "Denmark": [(125, -4.6, 1.5), (140, -3.3, 1.7), (163, -1.3, 2.2)],
    "Finland": [(90, -7, 3), (120, -4.7, 4.5), (137, -2.3, 5), (162, 1.1, 4)],
    "France": [(118, -4.6, 1), (140, -2.4, 1.3), (164, 0.2, 1.5)],
    "Germany": [(118, -4.6, 1.0), (150, -2.27, 1.2), (164, -0.2, 1.3)],
    "Greece": [(75, -6.5, 2.5), (90, -4.5, 2.5), (120, 0, 2.6), (149, 4.2, 2.8), (164, 5.5, 2.8)],
    "India": [(37, -4.5, .5), (102, -0.19, .5), (150, 4.03, .8), (160, 4.7, 1.0)],
    "Ireland": [(100, -4.6, 1.0), (130, -0.5, 1.2), (163, 3.93, 1.5)],
    "Israel": [(105, -7, 3), (115, -4.6, 4), (135, -2.0, 6), (163, 1.3, 6)],
    "Italy": [(110, -4.6, .7), (113, -3.93, .7), (137, 4.12, .9), (148, 6, 1.5)],
    "Japan": [(85, -4.6, 1), (110, 0, 1.5), (135, 3.84, 2.2), (150, 4.8, 3.2), (163, 5.5, 3.8)],
    "Latvia": [(110, -6, 3), (117, -4.5, 4), (140, -1, 5), (164, 3.0, 5)],
    "Lithuania": [(115, -7, 3), (137, -4.5, 6), (164, -1.1, 6)],
    "Luxembourg": [(120, -7, 2), (140, -5, 3.5), (165, -2.5, 3)],
    "Mexico": [(120, -8, 3), (150, -5, 8), (163, -4.8, 9.5)],
    "Netherlands": [(115, -4.6, 1.5), (140, -0.9, 1.8), (163, 2.28, 2)],
    "Nigeria": [(100, -6, 3), (120, -5, 7), (162, -5, 9.5)],
    "Norway": [(115, -5.5, 3), (127, -4.1, 4), (164, -0.3, 5)],
    "Poland": [(108, -4.6, 1.5), (128, 0.6, 2.5), (150, 4.16, 3), (164, 6, 3.7)],
    "Portugal": [(115, -6.5, 3), (130, -4.2, 4.5), (164, 0.5, 5)],
    "Qatar": [(90, -8, 4), (120, -6, 6), (138, -4.0, 7), (165, -1.2, 7)],
    "Russia": [(70, -4.6, 1.5), (103, 0.1, 2), (136, 4.1, 2.5), (163, 5.5, 3)],
    "Singapore": [(65, -4.6, .8), (92, -1.4, 1), (115, 1.6, 1.2), (139, 4.18, 1.5), (163, 5.5, 2.5)],
    "Slovakia": [(100, -8, 3), (130, -5, 6), (164, -1.5, 6.5)],
    "Slovenia": [(108, -5.5, 2), (113, -4.6, 2.5), (140, -0.7, 3.5), (163, 3.3, 3.5)],
    "South Africa": [(105, -7, 3), (130, -4.8, 7.5), (163, 0.5, 5.5)],
    "South Korea": [(95, -6, 2.5), (102, -4.6, 3), (140, -1.0, 4), (164, 0.9, 4)],
    "Spain": [(120, -4.6, 1.2), (140, -2.4, 1.4), (162, 0.32, 1.6)],
    "Sweden": [(115, -5.5, 1.5), (127, -4.2, 1.8), (163, -0.8, 2.5)],
    "Switzerland": [(118, -4.6, 1.5), (139, -2.12, 2), (163, 1.25, 2.5)],
    "Turkey": [(95, -4.6, 2), (104, -2.68, 2.5), (148, 0.32, 3.5), (165, 2.94, 3)],
    "United Kingdom": [(94, -4.6, .05), (127, -0.06, .05), (160, 4.44, .08)],
    "USA": [(112, -4.6, .2), (139, -1.74, .3), (164, 0.32, .8)],
}

P1 = {
    "Australia": [(80, -4.6, .8), (100, -4.2, .8), (105, -3.9, .8), (111, -4.2, .8), (120, -4.6, .8)],
    "Bangladesh": [(30, -4.8, .6), (140, -4.8, .6)],
    "Belgium": [(32, -4.4, .2), (62, -3.4, .15), (92, -2.75, .15), (121, -1.9, .2), (133, -1.8, .3), (148, -2.64, .6), (160, -3.95, 1.0)],
    "Brazil": [(-11, -1.8, .25), (27, -0.1, .2), (55, 1.1, .2), (82, 2.13, .2), (110, 2.88, .3), (120, 3.1, 2.5), (132, 3.26, 7), (148, 3.17, 8), (165, 2.3, 8)],
    "Canada": [(40, -5.2, 1.2), (100, -4.8, 1.4), (164, -4.5, 1.5)],
    "Chile": [(18, -4.14, 1.2), (30, -4.14, 1.2), (48, -3.0, 1.0), (72, -1.52, .6), (96, -0.2, .5), (119, 0.73, .5), (143, 1.48, .8), (152, 1.5, 1.2), (164, 0.73, 3)],
    "Czech Republic": [(100, -5, 1), (163, -3.5, 1.5)],
    "Finland": [(60, -5, .8), (162, -4.8, .8)],
    "France": [(72, -4.6, .6), (94, -4.14, .6), (121, -3.58, .6), (143, -3.39, .6), (164, -3.95, .7)],
    "Italy": [(5, -4.5, .3), (22, -3.93, .3), (44, -3.46, .3), (71, -3.22, .3), (104, -3.15, .3), (118, -3.37, .35), (129, -4.5, .4)],
    "Japan": [(60, -4.8, .6), (85, -4.5, .6), (105, -4.8, .5)],
    "Latvia": [(110, -4.6, .4), (164, -4.4, .4)],
    "Luxembourg": [(100, -4.6, .8), (126, -3.9, .8), (165, -3.2, 1.2)],
    "Mexico": [(86, -4.6, .8), (103, -3.7, 1.0), (127, -2.77, 1.2), (151, -2.4, 1.5), (163, -2.3, 1.8)],
    "Netherlands": [(44, -4.4, .5), (68, -4.08, .5), (97, -3.71, .5), (127, -3.48, .5), (145, -3.5, .6), (151, -4.0, .7), (155, -4.6, .8)],
    "Nigeria": [(60, -4.6, 1), (100, -3.8, 1.5), (130, -3.2, 2), (162, -3.5, 2)],
    "Portugal": [(30, -4.6, .5), (48, -4.31, .5), (72, -3.65, .5), (96, -3.0, .5), (119, -2.34, .6), (137, -2.15, .8), (152, -2.25, 1.2), (164, -2.53, 1.6)],
    "Qatar": [(120, -4.6, .8), (165, -4.3, 1)],
    "Russia": [(75, -4.6, .5), (150, -4.6, .5)],
    "Singapore": [(95, -4.6, 1), (110, -3.8, 1.5), (125, -4.3, 1.5), (145, -4.6, 1.5)],
    "Slovakia": [(-11, -5, 1), (50, -5, 1), (100, -5, 1), (164, -4.8, 1.3)],
    "South Africa": [(100, -4.6, 1), (120, -4.0, 2), (140, -3.9, 2.5), (163, -4.3, 3)],
    "South Korea": [(100, -4.6, .8), (125, -3.8, 1), (150, -3.9, 1.2), (164, -4.5, 1.5)],
    "Spain": [(67, -4.36, .4), (90, -3.24, .5), (114, -2.3, .6), (132, -1.74, .7), (147, -1.55, .8), (162, -2.12, 1.0)],
    "Turkey": [(69, -4.6, 1), (88, -3.43, 1.5), (110, -2.49, 2), (126, -2.3, 2.3), (143, -2.5, 2.5), (159, -3.6, 2.8)],
    "USA": [(65, -4.6, .1), (85, -3.24, .08), (107, -2.12, .08), (129, -1.27, .1), (145, -0.9, .15), (156, -0.88, .2), (164, -1.1, .3)],
}

SERIES = [OTHER, B117, B1351, B1525, B16171, B16172, P1]

# ---------------------------------------------------------------- layout
W, H = 2480, 1748
FONT = "Liberation Sans, Arial, Helvetica, sans-serif"
CLIP = 4.6                      # fractions are bounded to [0.01, 0.99]


def rgba(hex_color, a):
    h = hex_color.lstrip("#")
    return "rgba(%d,%d,%d,%.2f)" % (int(h[0:2], 16), int(h[2:4], 16), int(h[4:6], 16), a)


def px(y):
    return 1 - y / H


col_x0, col_pitch, pan_w = 155, 286.7, 266
row_y0, row_pitch, strip_h, pan_off, pan_h = 21, 265.4, 63, 65, 178

fig = go.Figure()
axes = {}
shapes = []
annotations = []

for i, country in enumerate(COUNTRIES):
    r, c = divmod(i, 7)
    n = i + 1
    x0 = col_x0 + c * col_pitch
    x1 = x0 + pan_w
    st = row_y0 + r * row_pitch
    pt = st + pan_off
    pb = pt + pan_h
    bottom = r == 5
    left = c == 0
    axes["xaxis" if n == 1 else "xaxis%d" % n] = dict(
        domain=[x0 / W, x1 / W], anchor="y" if n == 1 else "y%d" % n, automargin=False,
        range=[-18.5, 172.5], tickmode="array", tickvals=MONTH_DAYS, ticktext=MONTH_LABELS,
        showticklabels=bottom, ticks="outside" if bottom else "", ticklen=9, tickwidth=2.5,
        tickcolor="#333333", tickangle=-45, tickfont=dict(size=30, color="#1A1A1A", family=FONT),
        showgrid=True, gridcolor="white", gridwidth=2.6, zeroline=False, showline=False,
        minor=dict(tickmode="array", tickvals=[-15.5, 15.5, 45, 74.5, 105, 135.5, 166],
                   showgrid=True, gridcolor="white", gridwidth=1.4),
    )
    axes["yaxis" if n == 1 else "yaxis%d" % n] = dict(
        domain=[px(pb), px(pt)], anchor="x" if n == 1 else "x%d" % n, automargin=False,
        range=[-5.06, 5.06], tickmode="array", tickvals=FRACTION_TICKS, ticktext=FRACTION_LABELS,
        showticklabels=left, ticks="outside" if left else "", ticklen=9, tickwidth=2.5,
        tickcolor="#333333", tickfont=dict(size=28, color="#1A1A1A", family=FONT),
        showgrid=True, gridcolor="white", gridwidth=2.6, zeroline=False, showline=False,
        minor=dict(tickmode="array", tickvals=[-3.75, -1.25, 1.25, 3.75],
                   showgrid=True, gridcolor="white", gridwidth=1.4),
    )
    shapes.append(dict(type="rect", xref="paper", yref="paper", x0=x0 / W, x1=x1 / W,
                       y0=px(st + strip_h), y1=px(st), fillcolor="#D9D9D9", line=dict(width=0),
                       layer="below"))
    annotations.append(dict(text=country, xref="paper", yref="paper", x=(x0 + x1) / 2 / W,
                            y=px(st + strip_h / 2), showarrow=False, xanchor="center", yanchor="middle",
                            font=dict(size=32, color="#1A1A1A", family=FONT)))


def prepared(pts):
    d = [p[0] for p in pts]
    m = np.array([p[1] for p in pts], float)
    h = np.array([p[2] for p in pts], float)
    lo = np.clip(m - h, -CLIP, CLIP)
    hi = np.clip(m + h, -CLIP, CLIP)
    line = [float(v) if -CLIP - 0.02 <= v <= CLIP + 0.02 else None for v in m]
    return d, lo, hi, line


# ribbons first, then the fitted lines on top
for layer in ("ribbon", "line"):
    for vi, table in enumerate(SERIES):
        for i, country in enumerate(COUNTRIES):
            pts = table.get(country)
            if not pts:
                continue
            n = i + 1
            xa = "x" if n == 1 else "x%d" % n
            ya = "y" if n == 1 else "y%d" % n
            d, lo, hi, line = prepared(pts)
            if layer == "ribbon":
                fig.add_trace(go.Scatter(
                    x=d + d[::-1], y=list(hi) + list(lo[::-1]), xaxis=xa, yaxis=ya,
                    mode="lines", fill="toself", fillcolor=rgba(COLORS[vi], 0.35),
                    line=dict(width=0), hoverinfo="skip", showlegend=False))
            else:
                fig.add_trace(go.Scatter(
                    x=d, y=line, xaxis=xa, yaxis=ya, mode="lines",
                    line=dict(color=COLORS[vi], width=4.2, shape="spline", smoothing=0.8),
                    connectgaps=False, name=VARIANTS[vi], showlegend=False))

# legend drawn like a ggplot guide
annotations.append(dict(text="Variant", xref="paper", yref="paper", x=2198 / W, y=px(578),
                        showarrow=False, xanchor="left", yanchor="middle",
                        font=dict(size=41, color="#1A1A1A", family=FONT)))
for vi, name in enumerate(VARIANTS):
    cy = 652 + vi * 72
    shapes.append(dict(type="rect", xref="paper", yref="paper", x0=2203 / W, x1=2275 / W,
                       y0=px(cy + 34), y1=px(cy - 34), fillcolor="#F2F2F2", line=dict(width=0)))
    shapes.append(dict(type="rect", xref="paper", yref="paper", x0=2206 / W, x1=2272 / W,
                       y0=px(cy + 31), y1=px(cy - 31), fillcolor=rgba(COLORS[vi], 0.35),
                       line=dict(width=0)))
    shapes.append(dict(type="line", xref="paper", yref="paper", x0=2211 / W, x1=2267 / W,
                       y0=px(cy), y1=px(cy), line=dict(color=COLORS[vi], width=4.5)))
    annotations.append(dict(text=name, xref="paper", yref="paper", x=2296 / W, y=px(cy),
                            showarrow=False, xanchor="left", yanchor="middle",
                            font=dict(size=32, color="#1A1A1A", family=FONT)))

annotations.append(dict(text="Fraction", xref="paper", yref="paper", x=35 / W, y=px(838),
                        showarrow=False, textangle=-90, xanchor="center", yanchor="middle",
                        font=dict(size=41, color="#1A1A1A", family=FONT)))
annotations.append(dict(text="Date of sampling", xref="paper", yref="paper", x=1148 / W, y=px(1705),
                        showarrow=False, xanchor="center", yanchor="middle",
                        font=dict(size=41, color="#1A1A1A", family=FONT)))

fig.update_layout(
    width=W, height=H, autosize=False,
    margin=dict(l=0, r=0, t=0, b=0, autoexpand=False),
    paper_bgcolor="white", plot_bgcolor="#EBEBEB",
    font=dict(family=FONT),
    showlegend=False,
    shapes=shapes, annotations=annotations,
    **axes,
)

fig.write_html("out.html", config={"displayModeBar": False},
               post_script="document.body.style.margin='0';")
